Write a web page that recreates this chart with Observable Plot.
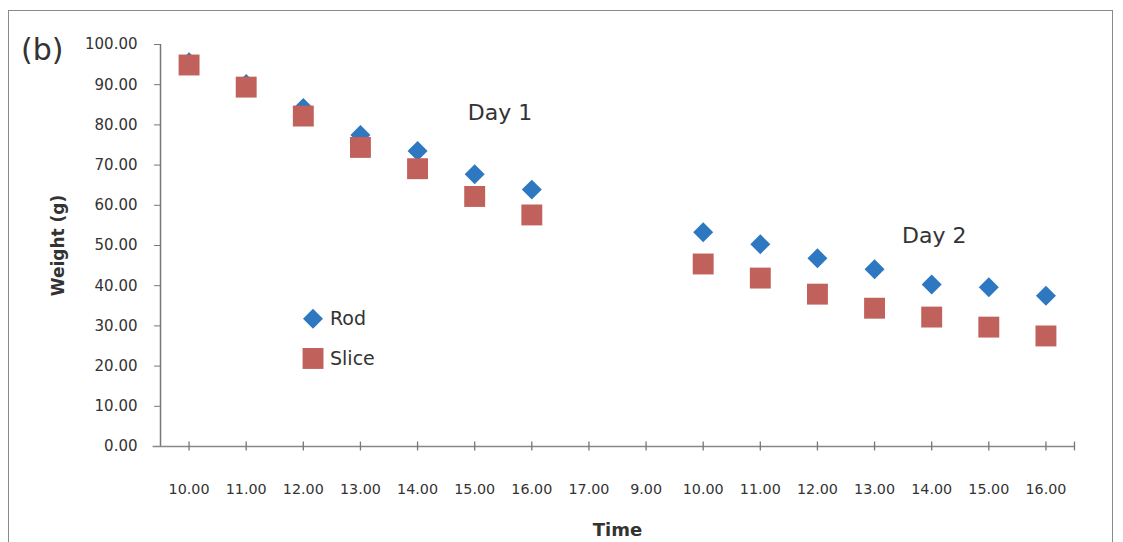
<!DOCTYPE html>
<html>
<head>
<meta charset="utf-8">
<script src="https://cdn.jsdelivr.net/npm/d3@7"></script>
<script src="https://cdn.jsdelivr.net/npm/@observablehq/plot@0.6"></script>
<style>
  html, body { margin: 0; padding: 0; background: #fff; width: 1123px; height: 542px; overflow: hidden; }
  #wrap { position: relative; width: 1123px; height: 542px; }
  #frame { position: absolute; left: 8px; top: 10px; width: 1105px; height: 600px; border: 1.5px solid #8a8a8a; box-sizing: border-box; }
  #tag { position: absolute; left: 21px; top: 32px; font: 30px "DejaVu Sans", sans-serif; color: #333; }
  #chart { position: absolute; left: 0; top: 0; }
  #chart g[aria-label="x-axis tick label"] text { font-size: 14.3px; }
  #chart g[aria-label="y-axis tick label"] text { font-size: 15px; }
</style>
</head>
<body>
<div id="wrap">
  <div id="frame"></div>
  <div id="chart"></div>
  <div id="tag">(b)</div>
</div>
<script>
const timeLabels = ["10.00","11.00","12.00","13.00","14.00","15.00","16.00","17.00","9.00","10.00","11.00","12.00","13.00","14.00","15.00","16.00"];
const rodWeight = [95.6, 90.2, 84.2, 77.5, 73.5, 67.7, 63.9, null, null, 53.3, 50.3, 46.8, 44.1, 40.3, 39.6, 37.5];
const sliceWeight = [94.9, 89.4, 82.2, 74.4, 69.1, 62.2, 57.6, null, null, 45.4, 41.9, 37.9, 34.4, 32.2, 29.7, 27.5];
const yTicks = [0, 10, 20, 30, 40, 50, 60, 70, 80, 90, 100];
const seriesNames = ["Rod", "Slice"];
const dayLabels = ["Day 1", "Day 2"];

const blue = "#2d78c0";
const red = "#c0615b";

const idx = timeLabels.map((_, i) => i);
const rodData = idx.filter(i => rodWeight[i] != null).map(i => ({i, v: rodWeight[i]}));
const sliceData = idx.filter(i => sliceWeight[i] != null).map(i => ({i, v: sliceWeight[i]}));
const tickPos = idx.concat([timeLabels.length - 0.5]);

const font = "'DejaVu Sans', sans-serif";

const chart = Plot.plot({
  width: 1123,
  height: 542,
  marginLeft: 160,
  marginRight: 49,
  marginTop: 44,
  marginBottom: 96,
  style: { fontFamily: font, background: "transparent", overflow: "visible", color: "#333" },
  x: { domain: [-0.5, timeLabels.length - 0.5] },
  y: { domain: [0, 100] },
  marks: [
    Plot.axisY({ticks: yTicks, tickFormat: d => d.toFixed(2), tickSize: 6, tickPadding: 17, fill: "#333", stroke: "#777", label: null}),
    Plot.axisX({ticks: idx, tickFormat: i => timeLabels[i], tickSize: 0, tickPadding: 37, fill: "#333", label: null}),
    Plot.ruleX([-0.5], {y1: 0, y2: 100, stroke: "#777", strokeWidth: 1.5}),
    Plot.ruleY([0], {x1: -0.63, x2: timeLabels.length - 0.5, stroke: "#888", strokeWidth: 1.5}),
    Plot.ruleX(tickPos, {y1: -1.1, y2: 1.1, stroke: "#777", strokeWidth: 1.3}),
    Plot.dot(rodData, {x: "i", y: "v", symbol: "diamond2", r: 9, fill: blue, stroke: null}),
    Plot.dot(sliceData, {x: "i", y: "v", symbol: "square", r: 11.8, fill: red, stroke: null}),
    // legend
    Plot.dot([seriesNames[0]], {x: 2.17, y: 31.8, symbol: "diamond2", r: 9, fill: blue, stroke: null}),
    Plot.dot([seriesNames[1]], {x: 2.17, y: 21.9, symbol: "square", r: 11.8, fill: red, stroke: null}),
    Plot.text([seriesNames[0]], {x: 2.17, y: 31.8, text: d => d, dx: 17, textAnchor: "start", fontSize: 19, fill: "#333"}),
    Plot.text([seriesNames[1]], {x: 2.17, y: 21.9, text: d => d, dx: 17, textAnchor: "start", fontSize: 19, fill: "#333"}),
    // day annotations
    Plot.text([dayLabels[0]], {x: 4.88, y: 83, text: d => d, textAnchor: "start", fontSize: 22, fill: "#333"}),
    Plot.text([dayLabels[1]], {x: 12.48, y: 52.4, text: d => d, textAnchor: "start", fontSize: 22, fill: "#333"}),
    // axis titles
    Plot.text(["Weight (g)"], {frameAnchor: "left", text: d => d, rotate: -90, dx: -102, textAnchor: "middle", lineAnchor: "middle", fontSize: 17, fontWeight: "bold", fill: "#333"}),
    Plot.text(["Time"], {frameAnchor: "bottom", text: d => d, dy: 84, lineAnchor: "middle", fontSize: 18, fontWeight: "bold", fill: "#333"})
  ]
});
document.getElementById("chart").appendChild(chart);
</script>
</body>
</html>
